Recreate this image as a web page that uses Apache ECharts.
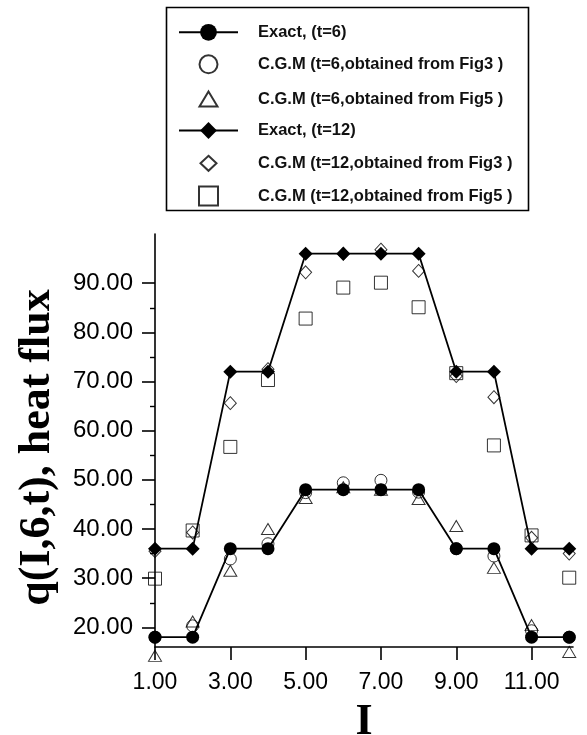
<!DOCTYPE html>
<html>
<head>
<meta charset="utf-8">
<script src="https://cdn.jsdelivr.net/npm/echarts@6/dist/echarts.min.js"></script>
<style>
  html, body { margin: 0; padding: 0; background: #fff; }
  #chart { width: 587px; height: 735px; }
</style>
</head>
<body>
<div id="chart"></div>
<script>
// Node index I along the boundary
const nodeIndex = [1, 2, 3, 4, 5, 6, 7, 8, 9, 10, 11, 12];

// Exact heat flux at t=6 and t=12
const exactT6 = [18, 18, 36, 36, 48, 48, 48, 48, 36, 36, 18, 18];
const exactT12 = [36, 36, 72, 72, 96, 96, 96, 96, 72, 72, 36, 36];

// Conjugate gradient method estimates
const cgmT6Fig3 = [18, 20.3, 33.9, 37.0, 47.4, 49.4, 49.9, 47.5, 36, 34.5, 19.3, 18];
const cgmT6Fig5 = [14.2, 21.2, 31.5, 40.0, 46.3, 48.5, 48, 46.1, 40.6, 32.1, 20.45, 15.0];
const cgmT12Fig3 = [35.5, 39.3, 65.6, 72.5, 92.2, 96, 96.8, 92.5, 71.1, 66.8, 38.2, 35.0];
const cgmT12Fig5 = [29.9, 39.7, 56.7, 70.3, 82.8, 89.1, 90.1, 85.1, 71.7, 57.0, 38.7, 30.1];

// Axis ticks
const xTickValues = [1, 3, 5, 7, 9, 11];
const yTickValues = [20, 30, 40, 50, 60, 70, 80, 90];
const yMinorTickValues = [25, 35, 45, 55, 65, 75, 85];

const seriesNames = [
  'Exact, (t=6)',
  'C.G.M (t=6,obtained from Fig3 )',
  'C.G.M (t=6,obtained from Fig5 )',
  'Exact, (t=12)',
  'C.G.M (t=12,obtained from Fig3 )',
  'C.G.M (t=12,obtained from Fig5 )'
];

const pairs = (ys) => nodeIndex.map((x, i) => [x, ys[i]]);

const openStyle = { color: 'rgba(255,255,255,0)', borderColor: '#000', borderWidth: 1 };

// One legend row per series so that every key symbol gets its own size.
const keyCenterX = 207.5;
const keyTextX = 257;
const keyRows = [
  { name: seriesNames[0], cy: 32.3, w: 59, h: 21 },
  { name: seriesNames[1], cy: 64.3, w: 18, h: 18 },
  { name: seriesNames[2], cy: 99.0, w: 18, h: 15 },
  { name: seriesNames[3], cy: 130.5, w: 59, h: 21 },
  { name: seriesNames[4], cy: 163.3, w: 16, h: 15 },
  { name: seriesNames[5], cy: 196.0, w: 19, h: 19 }
];
const legends = keyRows.map((row) => {
  const left = keyCenterX - row.w / 2;
  return {
    data: [row.name],
    orient: 'vertical',
    left: left,
    top: row.cy - 11,
    itemWidth: row.w,
    itemHeight: row.h,
    selectedMode: false,
    padding: 0,
    textStyle: {
      fontFamily: 'Liberation Sans, Arial, sans-serif',
      fontWeight: 'bold',
      fontSize: 16.5,
      lineHeight: 22,
      color: '#111',
      padding: [0, 0, 0, keyTextX - left - row.w - 5]
    }
  };
});

const chart = echarts.init(document.getElementById('chart'), null, { renderer: 'canvas' });

chart.setOption({
  animation: false,
  backgroundColor: '#fff',
  textStyle: { fontFamily: 'Liberation Sans, Arial, sans-serif', color: '#000' },
  graphic: [{
    type: 'rect',
    shape: { x: 166.5, y: 7.5, width: 362, height: 203 },
    style: { fill: 'none', stroke: '#000', lineWidth: 1.6 },
    silent: true
  }],
  legend: legends,
  grid: { left: 155, right: 14, top: 234, bottom: 88, outerBoundsMode: 'none', containLabel: false },
  xAxis: {
    type: 'value',
    min: 1,
    max: 12.1,
    name: 'I',
    nameLocation: 'middle',
    nameGap: 54,
    nameTextStyle: {
      fontFamily: 'Liberation Serif, Times New Roman, serif',
      fontWeight: 'bold',
      fontSize: 44,
      color: '#000'
    },
    axisLine: { onZero: false, lineStyle: { color: '#000', width: 1.6 } },
    axisTick: { customValues: xTickValues, length: 13, lineStyle: { color: '#000', width: 1.6 } },
    axisLabel: {
      customValues: xTickValues,
      margin: 24,
      fontSize: 23,
      color: '#000',
      formatter: (v) => v.toFixed(2)
    },
    splitLine: { show: false }
  },
  yAxis: [{
    type: 'value',
    min: 16,
    max: 100,
    name: 'q(I,6,t), heat flux',
    nameLocation: 'middle',
    nameGap: 95,
    nameTextStyle: {
      fontFamily: 'Liberation Serif, Times New Roman, serif',
      fontWeight: 'bold',
      fontSize: 44,
      color: '#000',
      padding: [0, 14, 0, 0]
    },
    axisLine: { onZero: false, lineStyle: { color: '#000', width: 1.6 } },
    axisTick: { customValues: yTickValues, length: 13, lineStyle: { color: '#000', width: 1.6 } },
    axisLabel: {
      customValues: yTickValues,
      margin: 22,
      fontSize: 24,
      color: '#000',
      formatter: (v) => v.toFixed(2)
    },
    splitLine: { show: false }
  }, {
    type: 'value',
    min: 16,
    max: 100,
    position: 'left',
    axisLine: { show: false, onZero: false },
    axisTick: { customValues: yMinorTickValues, length: 5, lineStyle: { color: '#000', width: 1.4 } },
    axisLabel: { show: false },
    splitLine: { show: false }
  }],
  series: [
    {
      name: seriesNames[1], type: 'scatter', clip: false,
      symbol: 'circle', symbolSize: 12,
      itemStyle: openStyle,
      data: pairs(cgmT6Fig3)
    },
    {
      name: seriesNames[2], type: 'scatter', clip: false,
      symbol: 'triangle', symbolSize: [13, 11],
      itemStyle: openStyle,
      data: pairs(cgmT6Fig5)
    },
    {
      name: seriesNames[4], type: 'scatter', clip: false,
      symbol: 'diamond', symbolSize: [12, 13],
      itemStyle: openStyle,
      data: pairs(cgmT12Fig3)
    },
    {
      name: seriesNames[5], type: 'scatter', clip: false,
      symbol: 'rect', symbolSize: 13,
      itemStyle: openStyle,
      data: pairs(cgmT12Fig5)
    },
    {
      name: seriesNames[0], type: 'line', clip: false,
      symbol: 'circle', symbolSize: 13,
      itemStyle: { color: '#000' },
      lineStyle: { color: '#000', width: 1.8 },
      data: pairs(exactT6)
    },
    {
      name: seriesNames[3], type: 'line', clip: false,
      symbol: 'diamond', symbolSize: 14,
      itemStyle: { color: '#000' },
      lineStyle: { color: '#000', width: 1.8 },
      data: pairs(exactT12)
    }
  ]
});
</script>
</body>
</html>
